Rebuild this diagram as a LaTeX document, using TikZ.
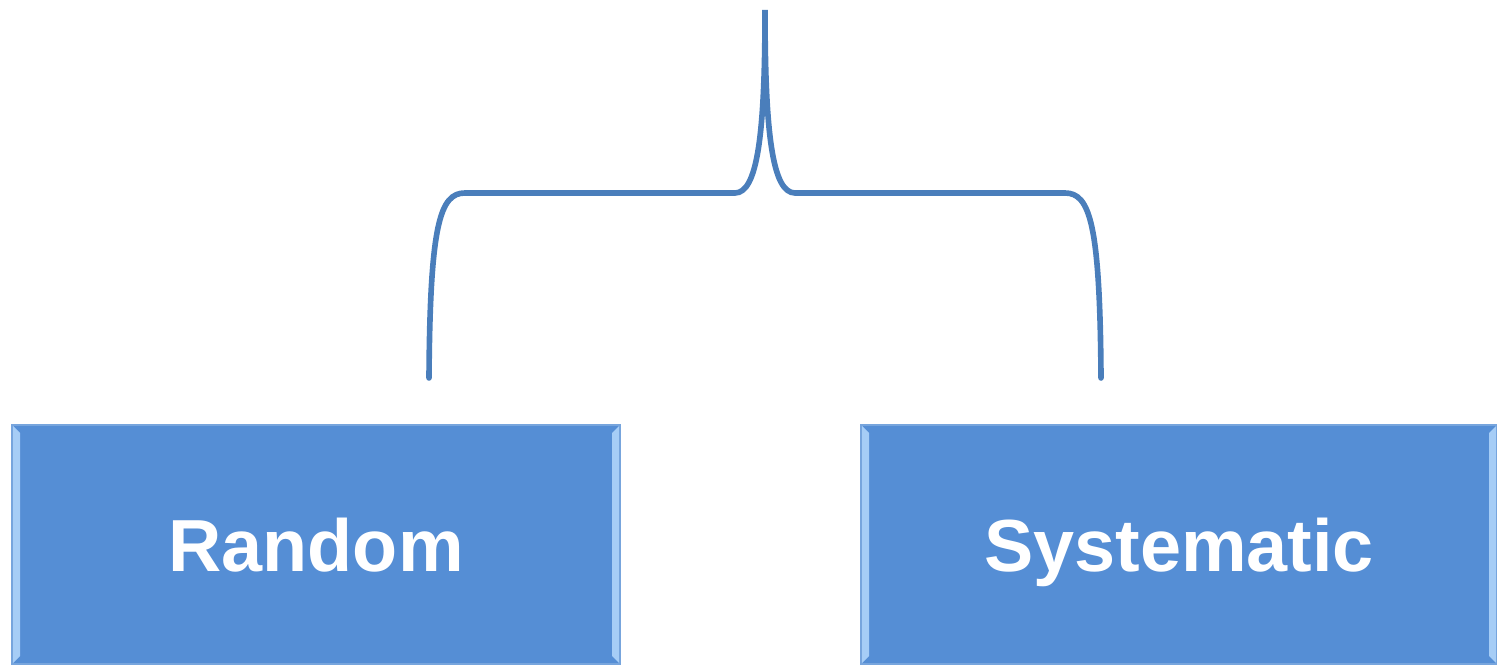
\documentclass[tikz,border=0pt]{standalone}
\usepackage{fontspec}
\setmainfont{Liberation Sans}
\definecolor{boxfill}{HTML}{558ED5}
\definecolor{boxedge}{HTML}{A6CDF6}
\definecolor{bracecol}{HTML}{4A7EBB}
\tikzset{
  typebox/.style = {
    fill=boxfill, draw=boxfill!80!white, line width=0.6pt, inner sep=0pt,
    minimum height=4.78cm, text height=1.3cm, text depth=0.2cm,
    text=white, font=\fontsize{42}{48}\selectfont\bfseries,
    path picture={
      \fill[boxedge] (path picture bounding box.south west) -- (path picture bounding box.north west)
        -- ++(0.16,-0.16) -- ([shift={(0.16,0.16)}]path picture bounding box.south west) -- cycle;
      \fill[boxedge] (path picture bounding box.south east) -- (path picture bounding box.north east)
        -- ++(-0.16,-0.16) -- ([shift={(-0.16,0.16)}]path picture bounding box.south east) -- cycle;
    }
  },
  brace/.style = {draw=bracecol, line width=3.2pt, line cap=round}
}

\begin{document}
\begin{tikzpicture}
  \useasboundingbox (0,0) rectangle (29.94,13.28);
  % boxes
  \node (random) at (6.32,2.39) [typebox, minimum width=12.16cm] {Random};
  \node (systematic) at (23.58,2.39) [typebox, minimum width=12.72cm] {Systematic};
  % brace
  \coordinate (lfoot) at (8.58,5.72);
  \coordinate (rfoot) at (22.02,5.72);
  \coordinate (tip) at (15.3,13.08);
  \draw[brace] (lfoot) .. controls (8.6,8.8) and (8.8,9.42) .. (9.3,9.42) -- (14.7,9.42)
    .. controls (15.15,9.42) and (15.3,10.6) .. (tip)
    .. controls (15.3,10.6) and (15.45,9.42) .. (15.9,9.42) -- (21.3,9.42)
    .. controls (21.8,9.42) and (22.0,8.8) .. (rfoot);
\end{tikzpicture}
\end{document}
